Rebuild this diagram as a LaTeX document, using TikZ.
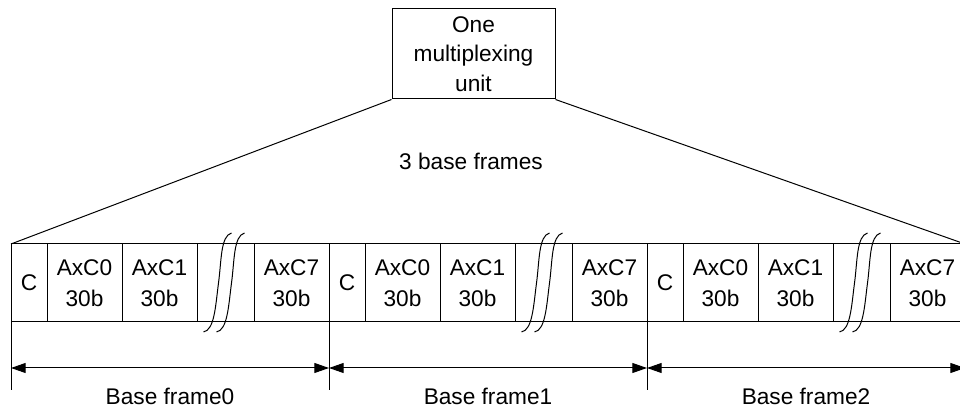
\documentclass[tikz,border=0pt]{standalone}
\usepackage{fontspec}
\setmainfont{Liberation Sans}
\usetikzlibrary{positioning,arrows.meta}

\tikzset{every picture/.style={line width=0.75pt}}
\tikzset{
	txt/.style={inner sep=0.75pt, align=center, font=\fontsize{17}{22}\selectfont},
	unitbox/.style={draw, txt, minimum width=122.25pt, minimum height=67.5pt},
	cellbox/.style={draw, inner sep=0pt, outer sep=0pt, minimum height=58.5pt, align=center, font=\fontsize{17}{23}\selectfont},
	dimarrow/.style={{Triangle[length=11pt,width=7.5pt]}-{Triangle[length=11pt,width=7.5pt]}}
}

\begin{document}
\begin{tikzpicture}[x=0.75pt,y=0.75pt,yscale=-1,xscale=1]
	\useasboundingbox (0,0) rectangle (960,409);
	\clip (0,0) rectangle (960,409);
	
	\node [unitbox] (unit) at (473.5,54) {One\\multiplexing\\unit};
	\node [txt] (three) at (471,161) {3 base frames};
	
	% the three base frames
	\foreach \f in {0,1,2} {
		\node [cellbox, minimum width=27pt, anchor=west] (hdr\f) at (11+318*\f,283) {C};
		\node [cellbox, minimum width=56.25pt, right=0pt of hdr\f] (axa\f) {AxC0\\30b};
		\node [cellbox, minimum width=56.25pt, right=0pt of axa\f] (axb\f) {AxC1\\30b};
		\node [cellbox, minimum width=42.75pt, right=0pt of axb\f] (gap\f) {};
		\node [cellbox, minimum width=56.25pt, right=0pt of gap\f] (axh\f) {AxC7\\30b};
		
		\foreach \dx in {-7,6}
			\draw ([shift={(\dx+13,-50)}]gap\f.center) .. controls +(-11,3) and +(3,-22) .. ([shift={(\dx,0)}]gap\f.center) .. controls +(-3,23) and +(11,-2) .. ([shift={(\dx-15,49)}]gap\f.center);
		
		\coordinate (tk\f) at (11+318*\f,390);
		\draw (hdr\f.south west) -- (tk\f);
		\node [txt] (bf\f) at (170+318*\f,396) {Base frame\f};
	}
	
	\foreach \f in {0,1,2,3}
		\coordinate (dm\f) at (11+318*\f,368);
	\draw [dimarrow] (dm0) -- (dm1);
	\draw [dimarrow] (dm1) -- (dm2);
	\draw [dimarrow] (dm2) -- (dm3);
	
	\draw (unit.south west) -- (hdr0.north west);
	\draw (unit.south east) -- (axh2.north east);
\end{tikzpicture}
\end{document}
